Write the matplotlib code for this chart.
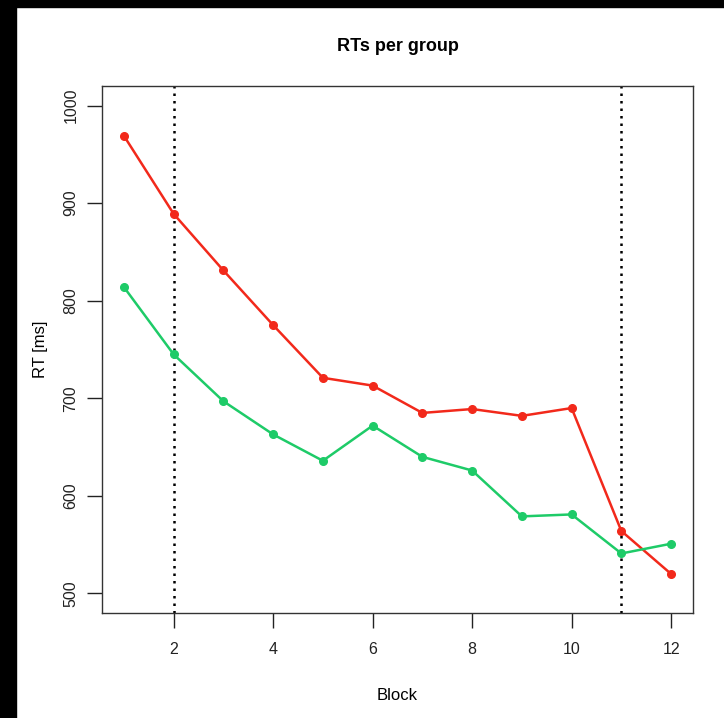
import matplotlib
matplotlib.use('Agg')
import matplotlib.pyplot as plt
from matplotlib.patches import Rectangle

plt.rcParams['font.family'] = ['Liberation Sans', 'DejaVu Sans']

blocks = list(range(1, 13))
rt_red = [969, 889, 831, 775, 721, 713, 685, 689, 682, 690, 564, 520]
rt_green = [814, 745, 697, 663, 636, 672, 640, 626, 579, 581, 541, 551]
vlines = [2, 11]
xticks = [2, 4, 6, 8, 10, 12]
yticks = [500, 600, 700, 800, 900, 1000]

fig = plt.figure(figsize=(7.24, 7.18), dpi=100, facecolor='white')
ax = fig.add_axes([102/724, 1 - 613/718, (693 - 102)/724, (613 - 86)/718])

# black frame on top and left of the screenshot
fig.patches.append(Rectangle((0, 1 - 7/718), 1, 7/718, transform=fig.transFigure,
                             color='black', zorder=0))
fig.patches.append(Rectangle((0, 0), 16/724, 1, transform=fig.transFigure,
                             color='black', zorder=0))

ax.plot(blocks, rt_red, color='#f2291b', lw=1.8, marker='o', ms=5.5, zorder=3)
ax.plot(blocks, rt_green, color='#1ecb68', lw=1.8, marker='o', ms=5.5, zorder=3)
for v in vlines:
    ax.axvline(v, color='black', lw=1.8, ls=(0, (1, 2)), zorder=2)

ax.set_xlim(1 - 0.44, 12 + 0.44)
ax.set_ylim(480, 1020)
ax.set_xticks(xticks)
ax.set_yticks(yticks)
ax.set_yticklabels([str(t) for t in yticks], rotation=90, va='center')
ax.tick_params(direction='out', length=11, width=1, labelsize=11.5, colors='#222222')
ax.tick_params(axis='x', pad=10)
ax.tick_params(axis='y', pad=6)
for s in ax.spines.values():
    s.set_color('#333333')
    s.set_linewidth(1)

ax.set_title('RTs per group', fontsize=13, fontweight='bold', pad=25)
ax.set_xlabel('Block', fontsize=12, labelpad=22)
ax.set_ylabel('RT [ms]', fontsize=12, labelpad=11)

fig.savefig('out.png', dpi=100)
